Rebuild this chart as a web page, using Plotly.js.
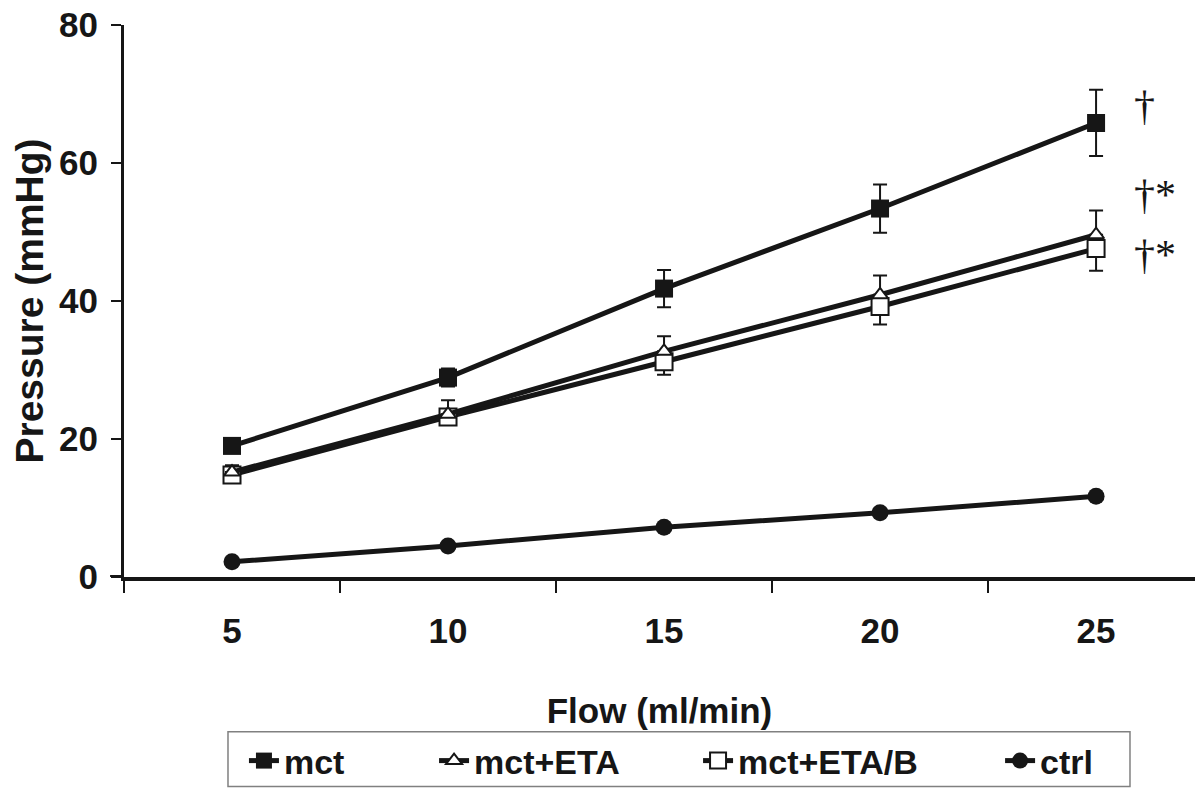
<!DOCTYPE html>
<html>
<head>
<meta charset="utf-8">
<script src="https://cdn.plot.ly/plotly-3.0.1.min.js"></script>
<style>html,body{margin:0;padding:0;background:#fff;}#chart{width:1195px;height:790px;}</style>
</head>
<body>
<div id="chart"></div>
<script>
const flow = ['5', '10', '15', '20', '25'];
const mct = [19.0, 28.9, 41.8, 53.4, 65.8];
const mctErr = [1.0, 1.3, 2.7, 3.5, 4.8];
const mctEta = [15.2, 23.6, 32.7, 40.9, 49.6];
const mctEtaErr = [1.0, 2.0, 2.2, 2.8, 3.5];
const mctEtaB = [14.8, 23.2, 31.2, 39.2, 47.6];
const mctEtaBErr = [0.8, 1.0, 1.9, 2.6, 3.2];
const ctrl = [2.2, 4.5, 7.2, 9.3, 11.7];
const zeros = [0, 0, 0, 0, 0];
const sigLabels = ['†', '†*', '†*'];
const sigLevels = [68.2, 55.4, 46.7];

const INK = '#161616';
const FONT = 'Liberation Sans, Arial, Helvetica, sans-serif';

function errBar(plus, minus) {
  return {type: 'data', array: plus, arrayminus: minus, symmetric: false,
          color: INK, thickness: 2, width: 7, visible: true};
}

const traces = [
  {x: flow, y: ctrl, name: 'ctrl', mode: 'lines+markers', legend: 'legend4',
   line: {color: INK, width: 5},
   marker: {symbol: 'circle', size: 17, color: INK}},
  {x: flow, y: mct, name: 'mct', mode: 'lines+markers', legend: 'legend',
   line: {color: INK, width: 5},
   marker: {symbol: 'square', size: 18, color: INK},
   error_y: errBar(mctErr, mctErr)},
  {x: flow, y: mctEtaB, name: 'mct+ETA/B', mode: 'lines+markers', legend: 'legend3',
   line: {color: INK, width: 5},
   marker: {symbol: 'square', size: 17, color: '#fff', line: {color: INK, width: 2}},
   error_y: errBar(zeros, mctEtaBErr)},
  {x: flow, y: mctEta, name: 'mct+ETA', mode: 'lines+markers', legend: 'legend2',
   line: {color: INK, width: 5},
   marker: {symbol: 'triangle-up', size: 14, color: '#fff', line: {color: INK, width: 2}},
   error_y: errBar(mctEtaErr, zeros)}
];

const legFont = {family: FONT, size: 34, color: INK, weight: 'bold'};
function leg(x) {
  return {x: x, y: -0.333, xanchor: 'left', yanchor: 'middle', orientation: 'h',
          bgcolor: 'rgba(0,0,0,0)', borderwidth: 0, font: legFont, itemwidth: 30};
}

const annotations = sigLabels.map((t, i) => ({
  x: 4.165, y: sigLevels[i], xref: 'x', yref: 'y', text: t, showarrow: false,
  xanchor: 'left', yanchor: 'middle',
  font: {family: 'Liberation Serif, Times New Roman, serif', size: 42, color: INK, weight: 'normal'}
}));

const tickFont = {family: FONT, size: 35, color: INK, weight: 'bold'};

const layout = {
  width: 1195, height: 790,
  margin: {l: 124, r: 0, t: 25, b: 212},
  paper_bgcolor: '#fff', plot_bgcolor: '#fff',
  font: {family: FONT, color: INK, weight: 'bold'},
  showlegend: true,
  xaxis: {
    type: 'category', range: [-0.5, 4.458], tickson: 'boundaries',
    showgrid: false, zeroline: false,
    showline: true, linecolor: INK, linewidth: 4,
    ticks: 'outside', ticklen: 12, tickwidth: 2, tickcolor: INK,
    ticklabelstandoff: 20,
    tickfont: tickFont,
    title: {text: 'Flow (ml/min)', standoff: 50,
            font: {family: FONT, size: 35, color: INK, weight: 'bold'}}
  },
  yaxis: {
    range: [0, 80], tickvals: [0, 20, 40, 60, 80],
    showgrid: false, zeroline: false,
    showline: true, linecolor: INK, linewidth: 3,
    ticks: 'outside', ticklen: 10, tickwidth: 2, tickcolor: INK,
    ticklabelstandoff: 6,
    tickfont: tickFont,
    title: {text: 'Pressure (mmHg)', standoff: 4,
            font: {family: FONT, size: 39, color: INK, weight: 'bold'}}
  },
  legend: leg(0.112),
  legend2: leg(0.2895),
  legend3: leg(0.536),
  legend4: leg(0.818),
  shapes: [
    {type: 'rect', xref: 'paper', yref: 'paper', x0: 0.0971, x1: 0.9393, y0: -0.2803, y1: -0.3797,
     line: {color: '#808080', width: 1.5}, fillcolor: 'rgba(0,0,0,0)'},
    {type: 'line', xref: 'paper', yref: 'y', x0: -0.013, x1: 0, y0: 0, y1: 0,
     line: {color: INK, width: 4}}
  ],
  annotations: annotations
};

Plotly.newPlot('chart', traces, layout, {displayModeBar: false, staticPlot: true});
</script>
</body>
</html>
